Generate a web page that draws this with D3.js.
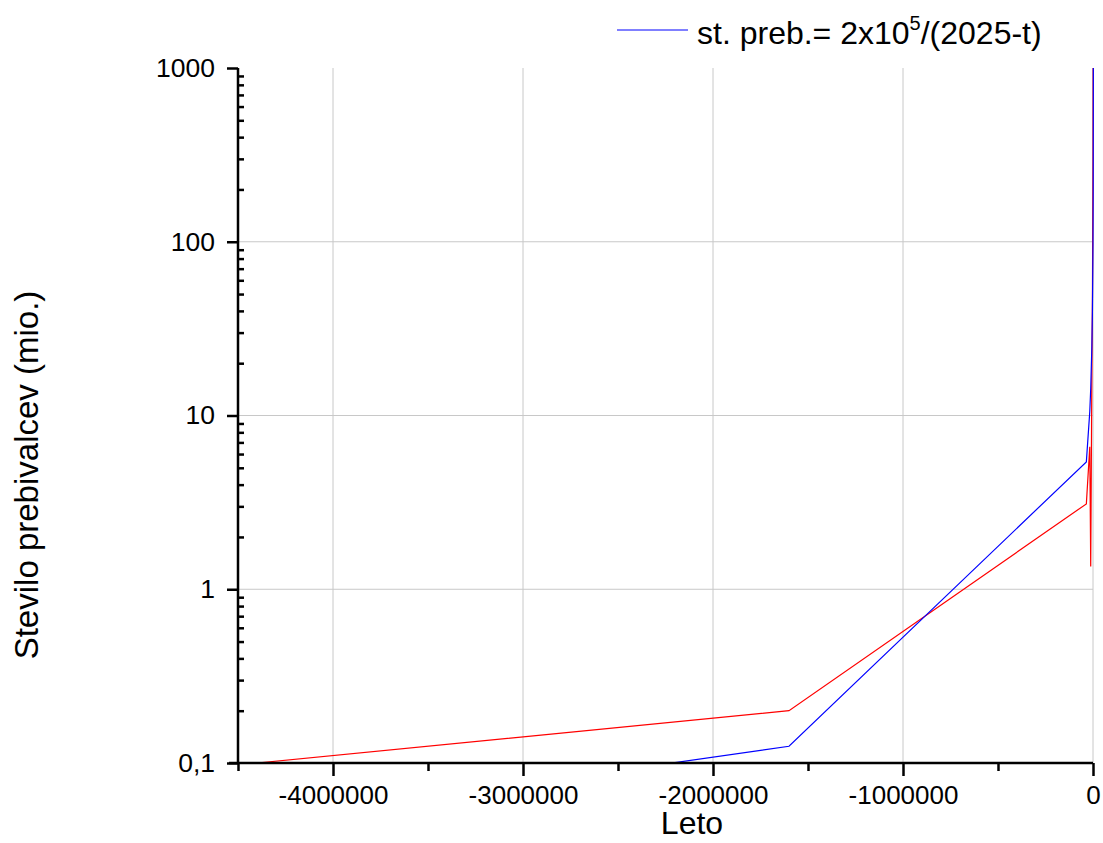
<!DOCTYPE html>
<html>
<head>
<meta charset="utf-8">
<script src="https://cdn.jsdelivr.net/npm/d3@7/dist/d3.min.js"></script>
<style>
  html, body { margin: 0; padding: 0; background: #fff; }
  svg { display: block; font-family: "Liberation Sans", Arial, sans-serif; }
</style>
</head>
<body>
<svg id="chart" width="1103" height="843"></svg>
<script>
// ---- data ----
const redYears = [-4400000, -1600000, -35000, -17000, -12000, -6000, -3000, 0, 1000, 1800, 2000];
const redValues = [0.1, 0.2, 3.1, 6.6, 1.35, 17, 47, 300, 1500, 3000, 6000];
const blueYears = [-4400000, -1600000, -35000, -17000, -12000, -6000, -3000, 0, 1000, 1800, 2000];
const blueValues = [0.0454, 0.1249, 5.41, 10.5, 14.26, 24.9, 39.75, 98.8, 195, 889, 8000];
const xTickValues = [-4000000, -3000000, -2000000, -1000000, 0];
const xTickLabels = ["-4000000", "-3000000", "-2000000", "-1000000", "0"];
const xMinorTicks = [-4500000, -3500000, -2500000, -1500000, -500000];
const yTickValues = [0.1, 1, 10, 100, 1000];
const yTickLabels = ["0,1", "1", "10", "100", "1000"];
const yGridValues = [1, 10, 100];
const xTitle = "Leto";
const yTitle = "Stevilo prebivalcev (mio.)";

// ---- layout ----
const L = 238, R = 1093, T = 68, B = 763;
const svg = d3.select("#chart");
const x = d3.scaleLinear().domain([-4500000, 0]).range([L, R]);
const y = d3.scaleLog().domain([0.1, 1000]).range([B, T]);

// minor log ticks
const yMinor = [];
[0.1, 1, 10, 100].forEach(d => { for (let k = 2; k <= 9; k++) yMinor.push(d * k); });

// grid
const grid = svg.append("g");
grid.selectAll("line.vx").data(xTickValues).enter().append("line")
  .attr("x1", d => x(d)).attr("x2", d => x(d)).attr("y1", T).attr("y2", B)
  .attr("stroke", "#c8c8c8").attr("stroke-width", 1);
grid.selectAll("line.hy").data(yGridValues).enter().append("line")
  .attr("x1", L).attr("x2", R).attr("y1", d => y(d)).attr("y2", d => y(d))
  .attr("stroke", "#c8c8c8").attr("stroke-width", 1);

// clip
svg.append("clipPath").attr("id", "clip").append("rect")
  .attr("x", L).attr("y", T).attr("width", R - L + 1).attr("height", B - T);

const line = d3.line().x(d => x(d[0])).y(d => y(d[1]));
const plot = svg.append("g").attr("clip-path", "url(#clip)");
plot.append("path").datum(redYears.map((t, i) => [t, redValues[i]]))
  .attr("d", line).attr("fill", "none").attr("stroke", "#ff0000").attr("stroke-width", 1.2);
plot.append("path").datum(blueYears.map((t, i) => [t, blueValues[i]]))
  .attr("d", line).attr("fill", "none").attr("stroke", "#0000ff").attr("stroke-width", 1.2);

// x axis
const xAxis = svg.append("g").attr("transform", `translate(0,${B})`)
  .call(d3.axisBottom(x).tickValues(xTickValues).tickSize(13).tickPadding(10)
    .tickFormat((d, i) => xTickLabels[i]));
xAxis.select(".domain").attr("stroke", "#000").attr("stroke-width", 2.5)
  .attr("d", `M${L - 9},0H${R}`);
xAxis.selectAll(".tick line").attr("stroke", "#000").attr("stroke-width", 2.5);
xAxis.selectAll(".tick text").attr("font-size", 26).attr("fill", "#000")
  .attr("font-family", "Liberation Sans, Arial, sans-serif");
const xMin = svg.append("g").attr("transform", `translate(0,${B})`)
  .call(d3.axisBottom(x).tickValues(xMinorTicks).tickSize(8).tickFormat(""));
xMin.select(".domain").remove();
xMin.selectAll(".tick line").attr("stroke", "#000").attr("stroke-width", 2.5);

// y axis
const yAxis = svg.append("g").attr("transform", `translate(${L},0)`)
  .call(d3.axisLeft(y).tickValues(yTickValues).tickSize(11).tickPadding(12)
    .tickFormat((d, i) => yTickLabels[i]));
yAxis.select(".domain").attr("stroke", "#000").attr("stroke-width", 2.5)
  .attr("d", `M0,${T}V${B}`);
yAxis.selectAll(".tick line").attr("stroke", "#000").attr("stroke-width", 2.5);
yAxis.selectAll(".tick text").attr("font-size", 26.5).attr("fill", "#000")
  .attr("font-family", "Liberation Sans, Arial, sans-serif");
const yMin = svg.append("g").attr("transform", `translate(${L},0)`)
  .call(d3.axisRight(y).tickValues(yMinor).tickSize(6).tickFormat(""));
yMin.select(".domain").remove();
yMin.selectAll(".tick line").attr("stroke", "#000").attr("stroke-width", 2.5);

// titles
svg.append("text").attr("x", 692).attr("y", 834).attr("text-anchor", "middle")
  .attr("font-size", 32).attr("fill", "#000").text(xTitle);
svg.append("text").attr("transform", "translate(38,475) rotate(-90)")
  .attr("text-anchor", "middle").attr("font-size", 33).attr("fill", "#000").text(yTitle);

// legend
svg.append("line").attr("x1", 617).attr("x2", 688).attr("y1", 30).attr("y2", 30)
  .attr("stroke", "#0000ff").attr("stroke-width", 1);
const lt = svg.append("text").attr("x", 697).attr("y", 44).attr("font-size", 32).attr("fill", "#000");
lt.append("tspan").text("st. preb.= 2x10");
lt.append("tspan").attr("font-size", 20).attr("dy", -14).text("5");
lt.append("tspan").attr("dy", 14).text("/(2025-t)");
</script>
</body>
</html>
